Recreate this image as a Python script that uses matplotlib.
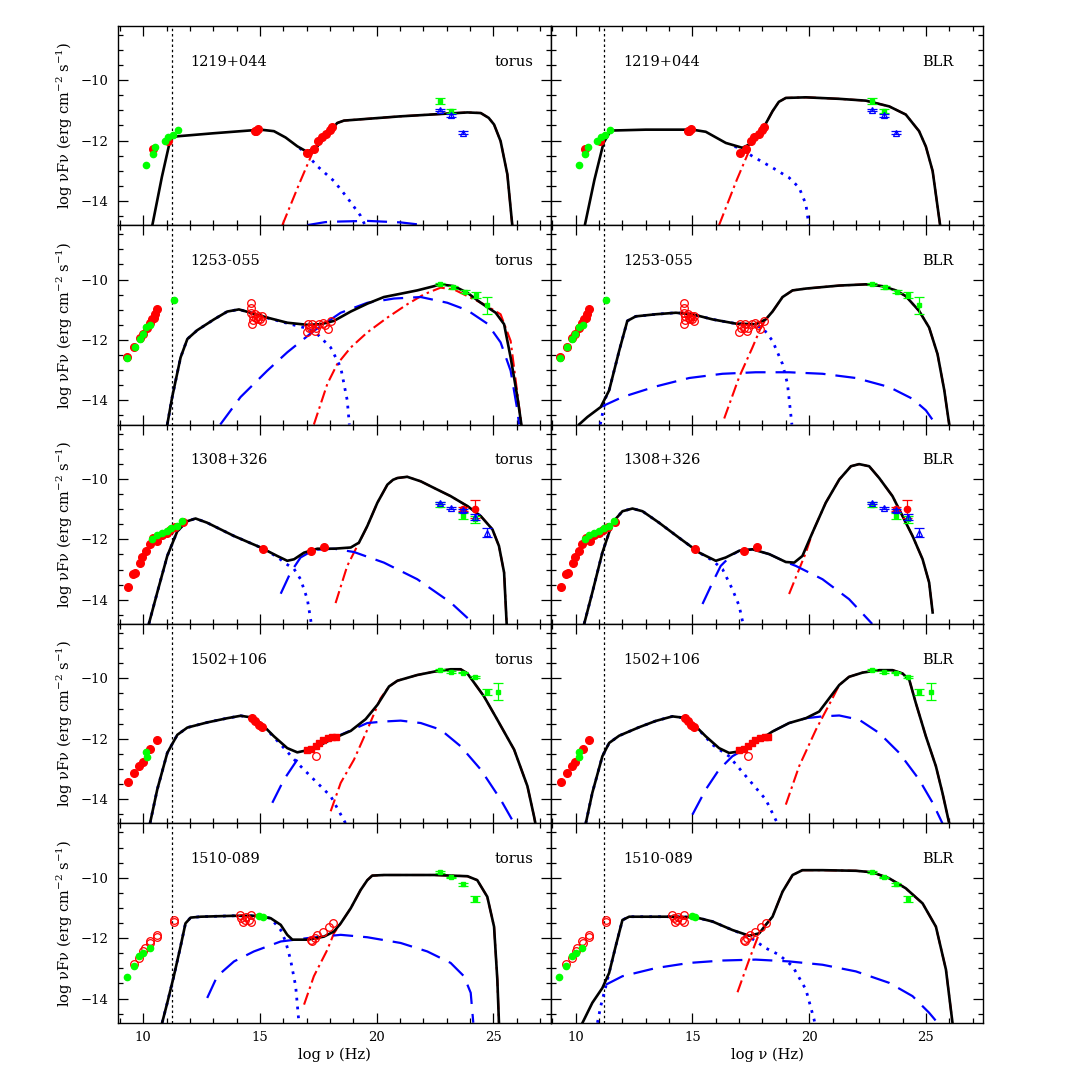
import matplotlib
matplotlib.use("Agg")
import matplotlib.pyplot as plt
import numpy as np

plt.rcParams['font.family'] = ['DejaVu Serif']
plt.rcParams['mathtext.fontset'] = 'dejavuserif'

sources = ["1219+044", "1253-055", "1308+326", "1502+106", "1510-089"]
models = ["torus", "BLR"]
x_ticks = [10, 15, 20, 25]
y_ticks = [-10, -12, -14]
nu_line = 11.22

# ---------------- observations (shared by the torus and BLR panels) ----------------
# 1219+044
o1_radio_green = [(10.12, -12.81), (10.41, -12.46), (10.51, -12.21), (10.92, -12.03), (11.08, -11.89), (11.26, -11.82), (11.48, -11.66)]
o1_red_fill = [(10.41, -12.29), (11.05, -12.02), (14.8, -11.7), (14.85, -11.68), (14.92, -11.63),
               (17.03, -12.42), (17.3, -12.27), (17.5, -12.0), (17.65, -11.88), (17.85, -11.8), (18.0, -11.66), (18.07, -11.56)]
o1_red_open = []
o1_gam_green = [(22.7, -10.69, 0.1), (23.2, -11.03, 0.06)]
o1_gam_blue = [(22.7, -10.98, 0.04), (23.2, -11.17, 0.06), (23.7, -11.74, 0.05)]
o1_gam_red = []
o1_red_sq = []

# 1253-055
o2_radio_green = [(9.32, -12.6), (9.64, -12.23), (9.84, -11.97), (9.98, -11.8), (10.12, -11.56), (10.29, -11.51), (11.3, -10.69)]
o2_red_fill = [(9.32, -12.58), (9.62, -12.23), (9.84, -11.95), (9.97, -11.81), (10.14, -11.59), (10.28, -11.43),
               (10.37, -11.32), (10.44, -11.26), (10.5, -11.15), (10.57, -10.99)]
o2_red_open = [(14.62, -10.77), (14.62, -10.93), (14.62, -11.1), (14.7, -11.21), (14.64, -11.48), (14.8, -11.15),
               (14.85, -11.26), (14.92, -11.21), (15.0, -11.32), (15.07, -11.21), (15.07, -11.37), (14.9, -11.3), (14.7, -11.33),
               (17.0, -11.75), (17.1, -11.59), (17.25, -11.48), (17.4, -11.59), (17.55, -11.48), (17.7, -11.43),
               (17.9, -11.64), (18.05, -11.37), (17.35, -11.7), (17.05, -11.48), (17.8, -11.5), (17.2, -11.62)]
o2_gam_green = [(22.7, -10.16, 0.03), (23.25, -10.26, 0.04), (23.77, -10.41, 0.05), (24.25, -10.5, 0.1), (24.72, -10.86, 0.27)]
o2_gam_blue = []
o2_gam_red = []
o2_red_sq = []

# 1308+326
o3_radio_green = [(10.38, -11.98), (10.58, -11.86), (10.8, -11.8), (11.0, -11.73), (11.2, -11.64), (11.44, -11.56), (11.66, -11.4)]
o3_red_fill = [(9.35, -13.59), (9.58, -13.15), (9.65, -13.1), (9.87, -12.77), (9.95, -12.6), (10.12, -12.38), (10.27, -12.17),
               (10.42, -11.95), (10.6, -12.05), (10.8, -11.85), (11.0, -11.78), (11.15, -11.69), (11.38, -11.6), (11.7, -11.43),
               (15.12, -12.33), (17.2, -12.38), (17.75, -12.27)]
o3_red_open = []
o3_gam_green = [(22.7, -10.85, 0.07), (23.7, -11.23, 0.1), (24.22, -11.34, 0.12)]
o3_gam_blue = [(22.7, -10.8, 0.04), (23.2, -10.95, 0.03), (23.7, -11.03, 0.05), (24.22, -11.25, 0.1), (24.72, -11.78, 0.15)]
o3_gam_red = [(23.7, -10.99, 0.06), (24.2, -11.01, 0.3)]
o3_red_sq = []

# 1502+106
o4_radio_green = [(10.13, -12.45), (10.14, -12.6)]
o4_red_fill = [(9.35, -13.42), (9.62, -13.15), (9.83, -12.91), (9.97, -12.78), (10.3, -12.34), (10.58, -12.03),
               (14.68, -11.32), (14.8, -11.42), (14.95, -11.53), (15.07, -11.61)]
o4_red_open = [(17.4, -12.58)]
o4_gam_green = [(22.7, -9.73, 0.03), (23.2, -9.78, 0.03), (23.7, -9.81, 0.03), (24.22, -9.95, 0.04), (24.72, -10.44, 0.1), (25.22, -10.44, 0.27)]
o4_gam_blue = []
o4_gam_red = []
o4_red_sq = [(17.0, -12.36), (17.2, -12.33), (17.4, -12.23), (17.55, -12.14), (17.7, -12.05), (17.9, -11.96), (18.1, -11.95), (18.25, -11.95)]

# 1510-089
o5_radio_green = [(9.3, -13.3), (9.6, -12.93), (9.83, -12.6), (10.0, -12.49), (10.28, -12.33), (14.96, -11.26), (15.13, -11.31)]
o5_red_fill = []
o5_red_open = [(9.6, -12.85), (9.83, -12.65), (10.0, -12.43), (10.07, -12.31), (10.27, -12.11), (10.29, -12.16), (10.57, -11.95),
               (10.57, -11.88), (11.3, -11.4), (11.3, -11.45),
               (14.13, -11.23), (14.2, -11.34), (14.27, -11.45), (14.4, -11.29), (14.55, -11.4), (14.62, -11.23), (14.62, -11.45), (14.35, -11.4),
               (17.2, -12.05), (17.25, -12.1), (17.45, -11.9), (17.7, -11.8), (17.95, -11.62), (18.15, -11.51), (17.35, -12.0)]
o5_gam_green = [(22.7, -9.82, 0.03), (23.2, -9.99, 0.03), (23.7, -10.22, 0.05), (24.22, -10.71, 0.1)]
o5_gam_blue = []
o5_gam_red = []
o5_red_sq = []

# ---------------- model curves ----------------
# 1219+044 torus
m1t_total = [(10.39, -14.8), (10.8, -13.2), (11.17, -11.93), (11.46, -11.86), (13.0, -11.76), (15.03, -11.64), (15.6, -11.69),
             (16.1, -11.9), (16.6, -12.19), (17.03, -12.38), (17.46, -12.19), (17.89, -11.8), (18.31, -11.42), (18.6, -11.34),
             (21.0, -11.2), (23.89, -11.07), (24.46, -11.09), (24.8, -11.25), (25.03, -11.47), (25.31, -12.02), (25.6, -13.12), (25.81, -14.8)]
m1t_sync = [(16.7, -12.25), (16.96, -12.42), (17.46, -12.85), (18.17, -13.34), (18.74, -13.89), (19.31, -14.49), (19.5, -14.8)]
m1t_ssc = [(17.03, -14.8), (17.8, -14.7), (18.46, -14.68), (19.6, -14.66), (21.03, -14.71), (22.03, -14.8)]
m1t_ec = [(15.96, -14.8), (16.7, -13.4), (17.31, -12.3), (17.89, -11.8)]

# 1219+044 BLR
m1b_total = [(10.39, -14.8), (10.8, -13.3), (11.19, -12.08), (11.5, -11.67), (13.0, -11.64), (15.0, -11.64), (15.57, -11.71),
             (16.43, -12.08), (17.14, -12.24), (17.57, -12.08), (18.0, -11.64), (18.43, -11.03), (18.7, -10.72), (19.0, -10.59), (19.86, -10.57),
             (21.29, -10.62), (22.43, -10.68), (23.43, -10.87), (24.14, -11.14), (24.71, -11.69), (25.0, -12.2), (25.29, -13.01), (25.61, -14.8)]
m1b_sync = [(16.8, -12.2), (17.0, -12.24), (17.57, -12.52), (18.43, -12.9), (19.14, -13.23), (19.57, -13.56), (19.86, -14.11), (19.97, -14.71), (19.98, -14.8)]
m1b_ssc = []
m1b_ec = [(16.14, -14.8), (16.9, -13.3), (17.57, -12.08), (18.0, -11.64)]

# 1253-055 torus
m2t_total = [(11.03, -14.8), (11.24, -13.89), (11.6, -12.58), (11.89, -11.97), (12.31, -11.68), (13.03, -11.32), (13.6, -11.06),
             (14.1, -10.99), (14.6, -11.1), (15.31, -11.26), (16.17, -11.43), (17.03, -11.5), (17.6, -11.48), (18.17, -11.37),
             (18.89, -11.06), (19.6, -10.8), (20.31, -10.58), (21.03, -10.47), (21.74, -10.36), (22.46, -10.22), (22.74, -10.16),
             (23.31, -10.22), (23.89, -10.44), (24.46, -10.77), (25.1, -11.1), (25.46, -11.48), (25.74, -12.58), (26.03, -13.89), (26.2, -14.8)]
m2t_sync = [(11.03, -14.8), (11.24, -13.89), (11.6, -12.58), (11.89, -11.97), (12.31, -11.68), (13.03, -11.32), (13.6, -11.06),
            (14.1, -10.99), (14.6, -11.1), (15.31, -11.27), (16.17, -11.45), (17.03, -11.62), (17.46, -11.81), (18.03, -12.25),
            (18.46, -12.91), (18.74, -14.0), (18.83, -14.8)]
m2t_ssc = [(13.3, -14.8), (14.17, -13.89), (15.31, -13.02), (16.17, -12.41), (17.31, -11.7), (18.46, -11.1), (19.6, -10.77),
           (20.74, -10.63), (21.89, -10.58), (23.03, -10.77), (23.89, -11.02), (24.74, -11.46), (25.31, -12.08), (25.74, -13.02),
           (26.03, -14.33), (26.1, -14.8)]
m2t_ec = [(17.31, -14.8), (17.89, -13.45), (18.31, -12.8), (18.89, -12.25), (19.6, -11.75), (20.46, -11.26), (21.31, -10.82),
          (22.03, -10.49), (22.74, -10.27), (23.31, -10.33), (23.89, -10.55), (24.6, -10.82), (25.31, -11.15), (25.74, -12.03),
          (26.0, -13.6), (26.2, -14.8)]

# 1253-055 BLR
m2b_total = [(10.14, -14.8), (10.5, -14.55), (11.07, -14.22), (11.43, -13.67), (11.86, -12.36), (12.21, -11.37), (12.57, -11.22),
             (13.43, -11.15), (14.29, -11.1), (15.0, -11.15), (15.86, -11.32), (16.86, -11.46), (17.71, -11.48), (18.14, -11.32),
             (18.43, -11.06), (18.86, -10.58), (19.29, -10.36), (19.86, -10.3), (21.29, -10.2), (22.43, -10.16), (23.14, -10.22),
             (23.71, -10.36), (24.14, -10.55), (24.71, -11.04), (25.14, -11.59), (25.5, -12.47), (25.79, -13.67), (26.0, -14.8)]
m2b_sync = [(11.05, -14.8), (11.29, -13.9), (11.43, -13.67), (11.86, -12.36), (12.21, -11.37), (12.57, -11.22), (13.43, -11.15),
            (14.29, -11.1), (15.0, -11.15), (15.86, -11.32), (16.86, -11.46), (17.5, -11.5), (18.0, -11.59), (18.43, -12.03),
            (18.86, -12.8), (19.07, -13.45), (19.26, -14.8)]
m2b_ssc = [(11.07, -14.22), (12.0, -13.89), (13.43, -13.54), (14.86, -13.26), (16.29, -13.12), (17.71, -13.07), (19.14, -13.07),
           (20.57, -13.12), (22.0, -13.26), (23.43, -13.56), (24.43, -13.95), (25.0, -14.33), (25.43, -14.8)]
m2b_ec = [(16.36, -14.6), (17.0, -13.23), (17.57, -12.25), (17.93, -11.59), (18.14, -11.32)]

# 1308+326 torus
m3t_total = [(10.24, -14.8), (10.6, -13.76), (11.03, -12.55), (11.46, -11.73), (11.89, -11.4), (12.24, -11.31), (12.74, -11.45),
             (13.89, -11.89), (15.03, -12.27), (15.74, -12.55), (16.17, -12.71), (16.46, -12.66), (16.89, -12.44), (17.46, -12.31),
             (18.17, -12.31), (18.89, -12.27), (19.24, -12.11), (19.6, -11.56), (20.03, -10.79), (20.46, -10.19), (20.7, -10.03), (20.89, -9.97),
             (21.31, -9.93), (21.89, -10.08), (22.46, -10.3), (23.17, -10.57), (23.89, -10.9), (24.46, -11.23), (24.96, -11.67),
             (25.24, -12.22), (25.46, -13.1), (25.57, -14.8)]
m3t_sync = [(10.24, -14.8), (10.6, -13.76), (11.03, -12.55), (11.46, -11.73), (11.89, -11.4), (12.24, -11.31), (12.74, -11.45),
            (13.89, -11.89), (15.03, -12.27), (15.74, -12.58), (16.1, -12.8), (16.46, -12.98), (16.74, -13.32), (17.03, -13.98),
            (17.17, -14.64), (17.2, -14.8)]
m3t_ssc = [(15.89, -13.8), (16.31, -13.1), (16.74, -12.6), (17.31, -12.35), (18.17, -12.31), (19.03, -12.42), (20.31, -12.77),
           (21.74, -13.32), (23.17, -14.09), (24.17, -14.8)]
m3t_ec = [(18.24, -14.11), (18.74, -12.88), (19.17, -12.22), (19.46, -11.78), (19.6, -11.56)]

# 1308+326 BLR
m3b_total = [(10.36, -14.8), (10.71, -13.76), (11.14, -12.44), (11.57, -11.45), (12.0, -11.07), (12.43, -10.98), (12.86, -11.07),
             (13.57, -11.45), (14.43, -11.95), (15.29, -12.44), (16.0, -12.71), (16.43, -12.6), (17.0, -12.38), (17.57, -12.33),
             (18.29, -12.49), (19.0, -12.75), (19.36, -12.77), (19.71, -12.55), (20.14, -11.78), (20.71, -10.79), (21.29, -10.02),
             (21.79, -9.58), (22.14, -9.51), (22.57, -9.58), (23.0, -9.97), (23.57, -10.57), (24.0, -11.23), (24.43, -11.89),
             (24.86, -12.66), (25.14, -13.43), (25.29, -14.42)]
m3b_sync = [(10.36, -14.8), (10.71, -13.76), (11.14, -12.44), (11.57, -11.45), (12.0, -11.07), (12.43, -10.98), (12.86, -11.07),
            (13.57, -11.45), (14.43, -11.95), (15.29, -12.44), (15.86, -12.7), (16.29, -12.99), (16.71, -13.65), (17.0, -14.2), (17.17, -14.8)]
m3b_ssc = [(15.43, -14.14), (15.86, -13.43), (16.21, -12.88), (16.64, -12.55), (17.0, -12.38), (17.57, -12.33), (18.29, -12.49),
           (19.0, -12.75), (19.43, -12.88), (20.57, -13.32), (21.71, -13.98), (22.57, -14.69), (22.7, -14.8)]
m3b_ec = [(19.14, -13.81), (19.57, -12.99), (19.86, -12.44), (20.14, -11.78)]

# 1502+106 torus
m4t_total = [(10.29, -14.8), (10.6, -13.68), (11.03, -12.47), (11.46, -11.87), (11.89, -11.63), (12.74, -11.46), (13.6, -11.32),
             (14.17, -11.24), (14.6, -11.29), (15.03, -11.48), (15.6, -11.92), (16.17, -12.31), (16.6, -12.45), (17.03, -12.38),
             (17.6, -12.2), (18.17, -11.98), (18.89, -11.74), (19.53, -11.35), (20.03, -10.88), (20.53, -10.27), (20.89, -10.08),
             (21.74, -9.89), (22.46, -9.78), (23.17, -9.7), (23.6, -9.7), (23.89, -9.84), (24.6, -10.6), (25.17, -11.37),
             (25.89, -12.36), (26.46, -13.57), (26.74, -14.56), (26.8, -14.8)]
m4t_sync = [(10.29, -14.8), (10.6, -13.68), (11.03, -12.47), (11.46, -11.87), (11.89, -11.63), (12.74, -11.46), (13.6, -11.32),
            (14.17, -11.24), (14.6, -11.29), (15.03, -11.48), (15.6, -11.95), (15.96, -12.25), (16.6, -12.8), (17.31, -13.35),
            (18.03, -13.9), (18.67, -14.8)]
m4t_ssc = [(15.53, -14.12), (16.03, -13.35), (16.74, -12.53), (17.46, -12.2), (18.46, -11.87), (19.6, -11.48), (20.31, -11.43),
           (21.03, -11.4), (21.89, -11.48), (22.74, -11.7), (23.6, -12.25), (24.46, -13.02), (25.31, -14.01), (25.89, -14.8)]
m4t_ec = [(18.03, -14.4), (18.46, -13.46), (19.03, -12.69), (19.6, -11.7), (20.17, -10.66), (20.53, -10.27)]

# 1502+106 BLR
m4b_total = [(10.43, -14.8), (10.71, -13.79), (11.14, -12.58), (11.43, -12.14), (11.86, -11.9), (12.71, -11.62), (13.43, -11.41),
             (14.14, -11.26), (14.57, -11.3), (15.0, -11.48), (15.57, -11.92), (16.14, -12.31), (16.57, -12.47), (17.0, -12.42),
             (17.57, -12.2), (18.43, -11.76), (19.14, -11.48), (19.86, -11.32), (20.43, -11.1), (20.86, -10.66), (21.29, -10.22),
             (21.71, -9.95), (22.29, -9.81), (23.0, -9.73), (23.57, -9.73), (24.0, -9.84), (24.29, -10.05), (24.57, -10.82),
             (25.0, -11.92), (25.43, -12.91), (25.71, -13.79), (26.0, -14.8)]
m4b_sync = [(10.43, -14.8), (10.71, -13.79), (11.14, -12.58), (11.43, -12.14), (11.86, -11.9), (12.71, -11.62), (13.43, -11.41),
            (14.14, -11.26), (14.57, -11.3), (15.0, -11.48), (15.57, -11.95), (15.86, -12.2), (16.57, -12.58), (17.29, -13.24),
            (18.14, -14.01), (18.64, -14.8)]
m4b_ssc = [(15.0, -14.51), (15.57, -13.68), (16.14, -13.02), (16.71, -12.58), (17.57, -12.2), (18.43, -11.76), (19.14, -11.48),
           (19.86, -11.32), (20.57, -11.26), (21.29, -11.23), (22.14, -11.37), (23.0, -11.81), (23.86, -12.47), (24.71, -13.35),
           (25.29, -14.12), (25.71, -14.8)]
m4b_ec = [(19.0, -14.18), (19.57, -12.91), (20.29, -11.7), (21.0, -10.66), (21.29, -10.22)]

# 1510-089 torus
m5t_total = [(10.81, -14.8), (11.03, -14.14), (11.31, -13.26), (11.6, -12.27), (11.81, -11.51), (12.03, -11.32), (12.46, -11.29),
             (13.89, -11.26), (14.89, -11.26), (15.46, -11.34), (15.89, -11.56), (16.17, -11.89), (16.39, -12.05), (17.03, -12.05),
             (17.74, -11.95), (18.17, -11.78), (18.46, -11.51), (18.89, -11.01), (19.31, -10.41), (19.6, -10.08), (19.81, -9.93),
             (20.31, -9.91), (22.46, -9.91), (23.89, -9.95), (24.31, -10.08), (24.74, -10.63), (25.03, -11.62), (25.17, -13.37), (25.24, -14.8)]
m5t_sync = [(10.81, -14.8), (11.03, -14.14), (11.31, -13.26), (11.6, -12.27), (11.81, -11.51), (12.03, -11.32), (12.46, -11.29),
            (13.89, -11.26), (14.89, -11.26), (15.46, -11.34), (15.89, -11.73), (16.1, -12.11), (16.31, -12.71), (16.53, -13.59), (16.67, -14.8)]
m5t_ssc = [(12.74, -13.98), (13.17, -13.26), (13.89, -12.77), (14.74, -12.44), (15.89, -12.11), (17.03, -12.0), (18.46, -11.89),
           (19.6, -11.97), (21.03, -12.16), (22.17, -12.44), (23.17, -12.82), (23.74, -13.26), (24.03, -13.81), (24.14, -14.8)]
m5t_ec = [(16.89, -14.2), (17.31, -13.26), (17.89, -12.38), (18.17, -11.84), (18.46, -11.51)]

# 1510-089 BLR
m5b_total = [(10.29, -14.8), (10.71, -14.14), (11.14, -13.65), (11.43, -13.15), (11.71, -12.27), (12.0, -11.4), (12.29, -11.29),
             (14.14, -11.29), (15.14, -11.31), (15.86, -11.45), (16.71, -11.73), (17.43, -11.92), (17.86, -11.84), (18.14, -11.56),
             (18.43, -11.29), (18.86, -10.46), (19.29, -9.91), (19.71, -9.75), (20.57, -9.75), (22.0, -9.77), (22.71, -9.82),
             (23.43, -10.02), (24.14, -10.35), (24.86, -10.85), (25.43, -11.62), (25.86, -13.04), (26.14, -14.8)]
m5b_sync = [(10.93, -14.8), (11.07, -14.25), (11.29, -13.59), (11.43, -13.15), (11.71, -12.27), (12.0, -11.4), (12.29, -11.29),
            (14.14, -11.29), (15.14, -11.31), (15.86, -11.45), (16.71, -11.73), (17.43, -11.95), (18.14, -12.33), (18.71, -12.55),
            (19.29, -12.93), (19.86, -13.7), (20.21, -14.69), (20.24, -14.8)]
m5b_ssc = [(11.29, -13.54), (12.0, -13.26), (13.43, -12.99), (14.86, -12.82), (16.29, -12.74), (17.71, -12.71), (19.14, -12.77),
           (20.57, -12.88), (22.0, -13.1), (23.43, -13.48), (24.43, -13.92), (25.14, -14.47), (25.5, -14.8)]
m5b_ec = [(16.93, -13.79), (17.43, -12.71), (17.86, -11.84), (18.14, -11.56)]

obs = [
    (o1_radio_green, o1_red_fill, o1_red_open, o1_red_sq, o1_gam_green, o1_gam_blue, o1_gam_red),
    (o2_radio_green, o2_red_fill, o2_red_open, o2_red_sq, o2_gam_green, o2_gam_blue, o2_gam_red),
    (o3_radio_green, o3_red_fill, o3_red_open, o3_red_sq, o3_gam_green, o3_gam_blue, o3_gam_red),
    (o4_radio_green, o4_red_fill, o4_red_open, o4_red_sq, o4_gam_green, o4_gam_blue, o4_gam_red),
    (o5_radio_green, o5_red_fill, o5_red_open, o5_red_sq, o5_gam_green, o5_gam_blue, o5_gam_red),
]
mods = [
    [(m1t_total, m1t_sync, m1t_ssc, m1t_ec), (m1b_total, m1b_sync, m1b_ssc, m1b_ec)],
    [(m2t_total, m2t_sync, m2t_ssc, m2t_ec), (m2b_total, m2b_sync, m2b_ssc, m2b_ec)],
    [(m3t_total, m3t_sync, m3t_ssc, m3t_ec), (m3b_total, m3b_sync, m3b_ssc, m3b_ec)],
    [(m4t_total, m4t_sync, m4t_ssc, m4t_ec), (m4b_total, m4b_sync, m4b_ssc, m4b_ec)],
    [(m5t_total, m5t_sync, m5t_ssc, m5t_ec), (m5b_total, m5b_sync, m5b_ssc, m5b_ec)],
]

RED = '#ff0000'
GREEN = '#00ff00'
BLUE = '#0000ff'


def xy(pts):
    a = np.array(pts, dtype=float).reshape(-1, 2)
    return a[:, 0], a[:, 1]


def ec_full(ec, total):
    # EC component merges into the total beyond its last visible point
    if not ec:
        return ec
    x_last = ec[-1][0]
    return list(ec) + [p for p in total if p[0] > x_last]


fig = plt.figure(figsize=(10.9, 10.9), dpi=100)
gs = fig.add_gridspec(5, 2, left=0.1085, right=0.9021, top=0.9764, bottom=0.0617, hspace=0, wspace=0)

for r in range(5):
    for c in range(2):
        ax = fig.add_subplot(gs[r, c])
        ax.set_xlim(8.93, 27.46)
        ax.set_ylim(-14.8, -8.2)
        total, sync, ssc, ec = mods[r][c]

        ax.axvline(nu_line, color='black', lw=0.9, dashes=(2, 2.2), zorder=1)

        if ec:
            ex, ey = xy(ec_full(ec, total))
            ax.plot(ex, ey, color=RED, lw=1.5, dashes=(6, 2, 1.2, 2), zorder=2)
        if ssc:
            sx, sy = xy(ssc)
            ax.plot(sx, sy, color=BLUE, lw=1.6, dashes=(9, 4.5), zorder=2)
        if sync:
            dx, dy = xy(sync)
            ax.plot(dx, dy, color=BLUE, lw=2.0, dashes=(1, 2.2), zorder=2)
        tx, ty = xy(total)
        ax.plot(tx, ty, color='black', lw=1.9, zorder=3, solid_joinstyle='round')

        rg, rf, ro, rsq, gg, gb, gr = obs[r]
        if rf:
            px, py = xy(rf)
            ax.plot(px, py, 'o', color=RED, ms=5.5, mec=RED, zorder=4)
        if ro:
            px, py = xy(ro)
            ax.plot(px, py, 'o', mfc='none', mec=RED, ms=5.5, mew=0.9, zorder=4)
        if rsq:
            px, py = xy(rsq)
            ax.plot(px, py, 's', color=RED, ms=5.0, zorder=4)
        if rg:
            px, py = xy(rg)
            ax.plot(px, py, 'o', color=GREEN, ms=4.5, zorder=5)
        if gr:
            a = np.array(gr)
            ax.errorbar(a[:, 0], a[:, 1], yerr=a[:, 2], fmt='o', color=RED, ms=4.5, capsize=3.5, elinewidth=0.9, capthick=0.9, zorder=5)
        if gg:
            a = np.array(gg)
            ax.errorbar(a[:, 0], a[:, 1], yerr=a[:, 2], fmt='s', color=GREEN, ms=3.5, capsize=3.5, elinewidth=0.9, capthick=0.9, zorder=5)
        if gb:
            a = np.array(gb)
            ax.errorbar(a[:, 0], a[:, 1], yerr=a[:, 2], fmt='^', mfc='none', mec=BLUE, color=BLUE, ms=4.5, mew=0.9,
                        capsize=3.5, elinewidth=0.9, capthick=0.9, zorder=6)

        ax.text(0.167, 0.82, sources[r], transform=ax.transAxes, ha='left', va='center', fontsize=10.5)
        ax.text(0.959 if c == 0 else 0.931, 0.82, models[c], transform=ax.transAxes, ha='right', va='center', fontsize=10.5)

        ax.set_xticks(x_ticks)
        ax.set_xticks(np.arange(9, 28, 1), minor=True)
        ax.set_yticks(y_ticks)
        ax.set_yticks(np.arange(-14.5, -8.2, 0.5), minor=True)
        ax.tick_params(which='both', direction='in', top=True, right=True, width=0.9, labelsize=9.5)
        ax.tick_params(which='major', length=7.2)
        ax.tick_params(which='minor', length=3.6)
        ax.tick_params(axis='x', pad=6)
        ax.tick_params(axis='y', pad=7)
        for sp in ax.spines.values():
            sp.set_linewidth(1.0)
        if c == 0:
            ax.set_ylabel('log νFν (erg cm$^{-2}$ s$^{-1}$)', fontsize=10.5)
            ax.yaxis.set_label_coords(-0.10, 0.5)
        else:
            ax.tick_params(labelleft=False)
        if r == 4:
            ax.set_xlabel('log ν (Hz)', fontsize=10.5)
            ax.xaxis.set_label_coords(0.5, -0.125)
        else:
            ax.tick_params(labelbottom=False)

fig.savefig('out.png', dpi=100, facecolor='white')
